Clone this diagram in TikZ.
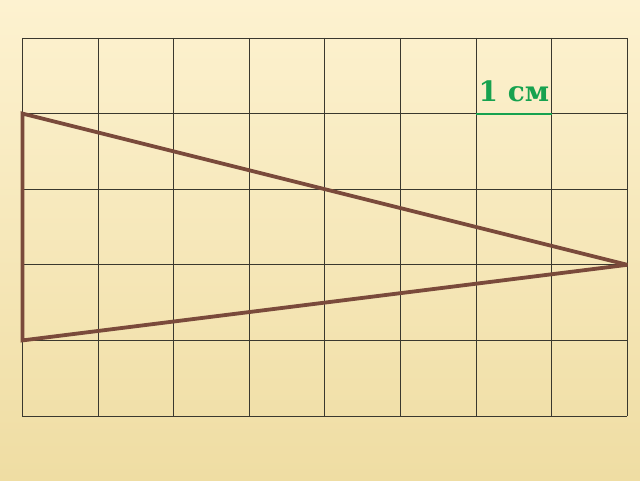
\documentclass[tikz,border=0pt]{standalone}
\usepackage{fontspec}
\usepackage{xcolor}
\usetikzlibrary{positioning, calc}
\newfontfamily\unitfont{DejaVu Serif}
\definecolor{PaperLight}{HTML}{FDF2D0}
\definecolor{PaperDark}{HTML}{EFDDA3}
\definecolor{GridGray}{HTML}{3A382E}
\definecolor{Brick}{HTML}{7A4A3B}
\definecolor{LeafGreen}{HTML}{17A24F}
\newcommand{\greentext}[1]{\textcolor{LeafGreen}{#1}}

\begin{document}
\begin{tikzpicture}[x=75.6pt, y=-75.6pt,
    gridline/.style={draw=GridGray, line width=0.9pt},
    side/.style={draw=Brick, line width=3.8pt, miter limit=2},
    unitline/.style={draw=LeafGreen, line width=1.8pt},
    unitlabel/.style={inner sep=0pt, font=\unitfont\bfseries\fontsize{28}{30}\selectfont}]
% paper, 640x480
\useasboundingbox (-0.2976,-0.5026) rectangle (8.1680,5.8466);
\shade[top color=PaperLight, bottom color=PaperDark] (-0.2976,-0.5026) rectangle (8.1680,5.8466);

% 8 x 5 cells
\foreach \i in {0,...,8} \draw[gridline] (\i,0) -- (\i,5);
\foreach \j in {0,...,5} \draw[gridline] (0,\j) -- (8,\j);

% triangle
\coordinate (top) at (0,1);
\coordinate (tip) at (8,3);
\coordinate (bottom) at (0,4);
\draw[side] (top) -- (tip) -- (bottom) -- cycle;

% unit length
\coordinate (unitL) at (6,1);
\coordinate (unitR) at (7,1);
\draw[unitline] (unitL) -- (unitR);
\node[unitlabel, above=12pt] (unit) at ($(unitL)!0.5!(unitR)$) {\greentext{1 см}};
\end{tikzpicture}
\end{document}
